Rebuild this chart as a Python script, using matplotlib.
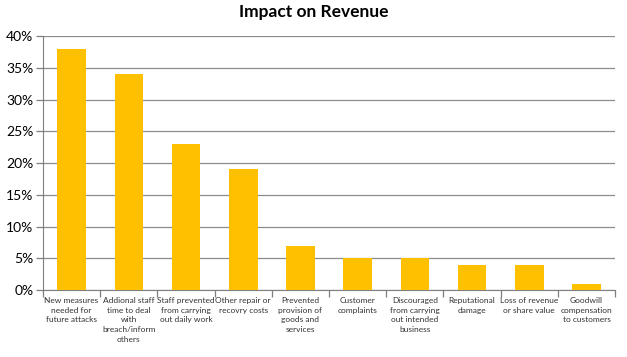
import matplotlib.pyplot as plt
import numpy as np
from matplotlib.ticker import PercentFormatter, FixedLocator

# data
categories = [
    "New measures\nneeded for\nfuture attacks",
    "Addional staff\ntime to deal\nwith\nbreach/inform\nothers",
    "Staff prevented\nfrom carrying\nout daily work",
    "Other repair or\nrecovry costs",
    "Prevented\nprovision of\ngoods and\nservices",
    "Customer\ncomplaints",
    "Discouraged\nfrom carrying\nout intended\nbusiness",
    "Reputational\ndamage",
    "Loss of revenue\nor share value",
    "Goodwill\ncompensation\nto customers",
]
values = [38, 34, 23, 19, 7, 5, 5, 4, 4, 1]
yticks = [0, 5, 10, 15, 20, 25, 30, 35, 40]

plt.rcParams['font.family'] = ['Lato', 'DejaVu Sans']

fig = plt.figure(figsize=(6.27, 3.57), dpi=100)
ax = fig.add_axes([0.0686, 0.1877, 0.9124, 0.7113])

x = np.arange(len(categories))
ax.bar(x, values, width=0.5, color='#FFC000', zorder=3)

ax.set_xlim(-0.5, len(categories) - 0.5)
ax.set_ylim(0, 40)
ax.set_yticks(yticks)
ax.yaxis.set_major_formatter(PercentFormatter(decimals=0))
ax.grid(axis='y', color='#8c8c8c', linewidth=0.9, zorder=0)

# category labels centred, ticks at the boundaries
ax.set_xticks(x)
ax.set_xticklabels(categories, fontsize=6.0, color='#333333', linespacing=1.45)
ax.tick_params(axis='x', which='major', length=0, pad=5)
ax.xaxis.set_minor_locator(FixedLocator(np.arange(len(categories) + 1) - 0.5))
ax.tick_params(axis='x', which='minor', length=5, color='#7f7f7f', width=0.9)
ax.tick_params(axis='y', length=5, color='#7f7f7f', width=0.9, labelsize=10, pad=2)

for s in ['top', 'right']:
    ax.spines[s].set_visible(False)
ax.spines['left'].set_color('#7f7f7f')
ax.spines['bottom'].set_color('#7f7f7f')

fig.text(0.5, 0.965, "Impact on Revenue", ha='center', va='center',
         fontsize=12.5, fontweight='bold')

fig.savefig('out.png', dpi=100)
